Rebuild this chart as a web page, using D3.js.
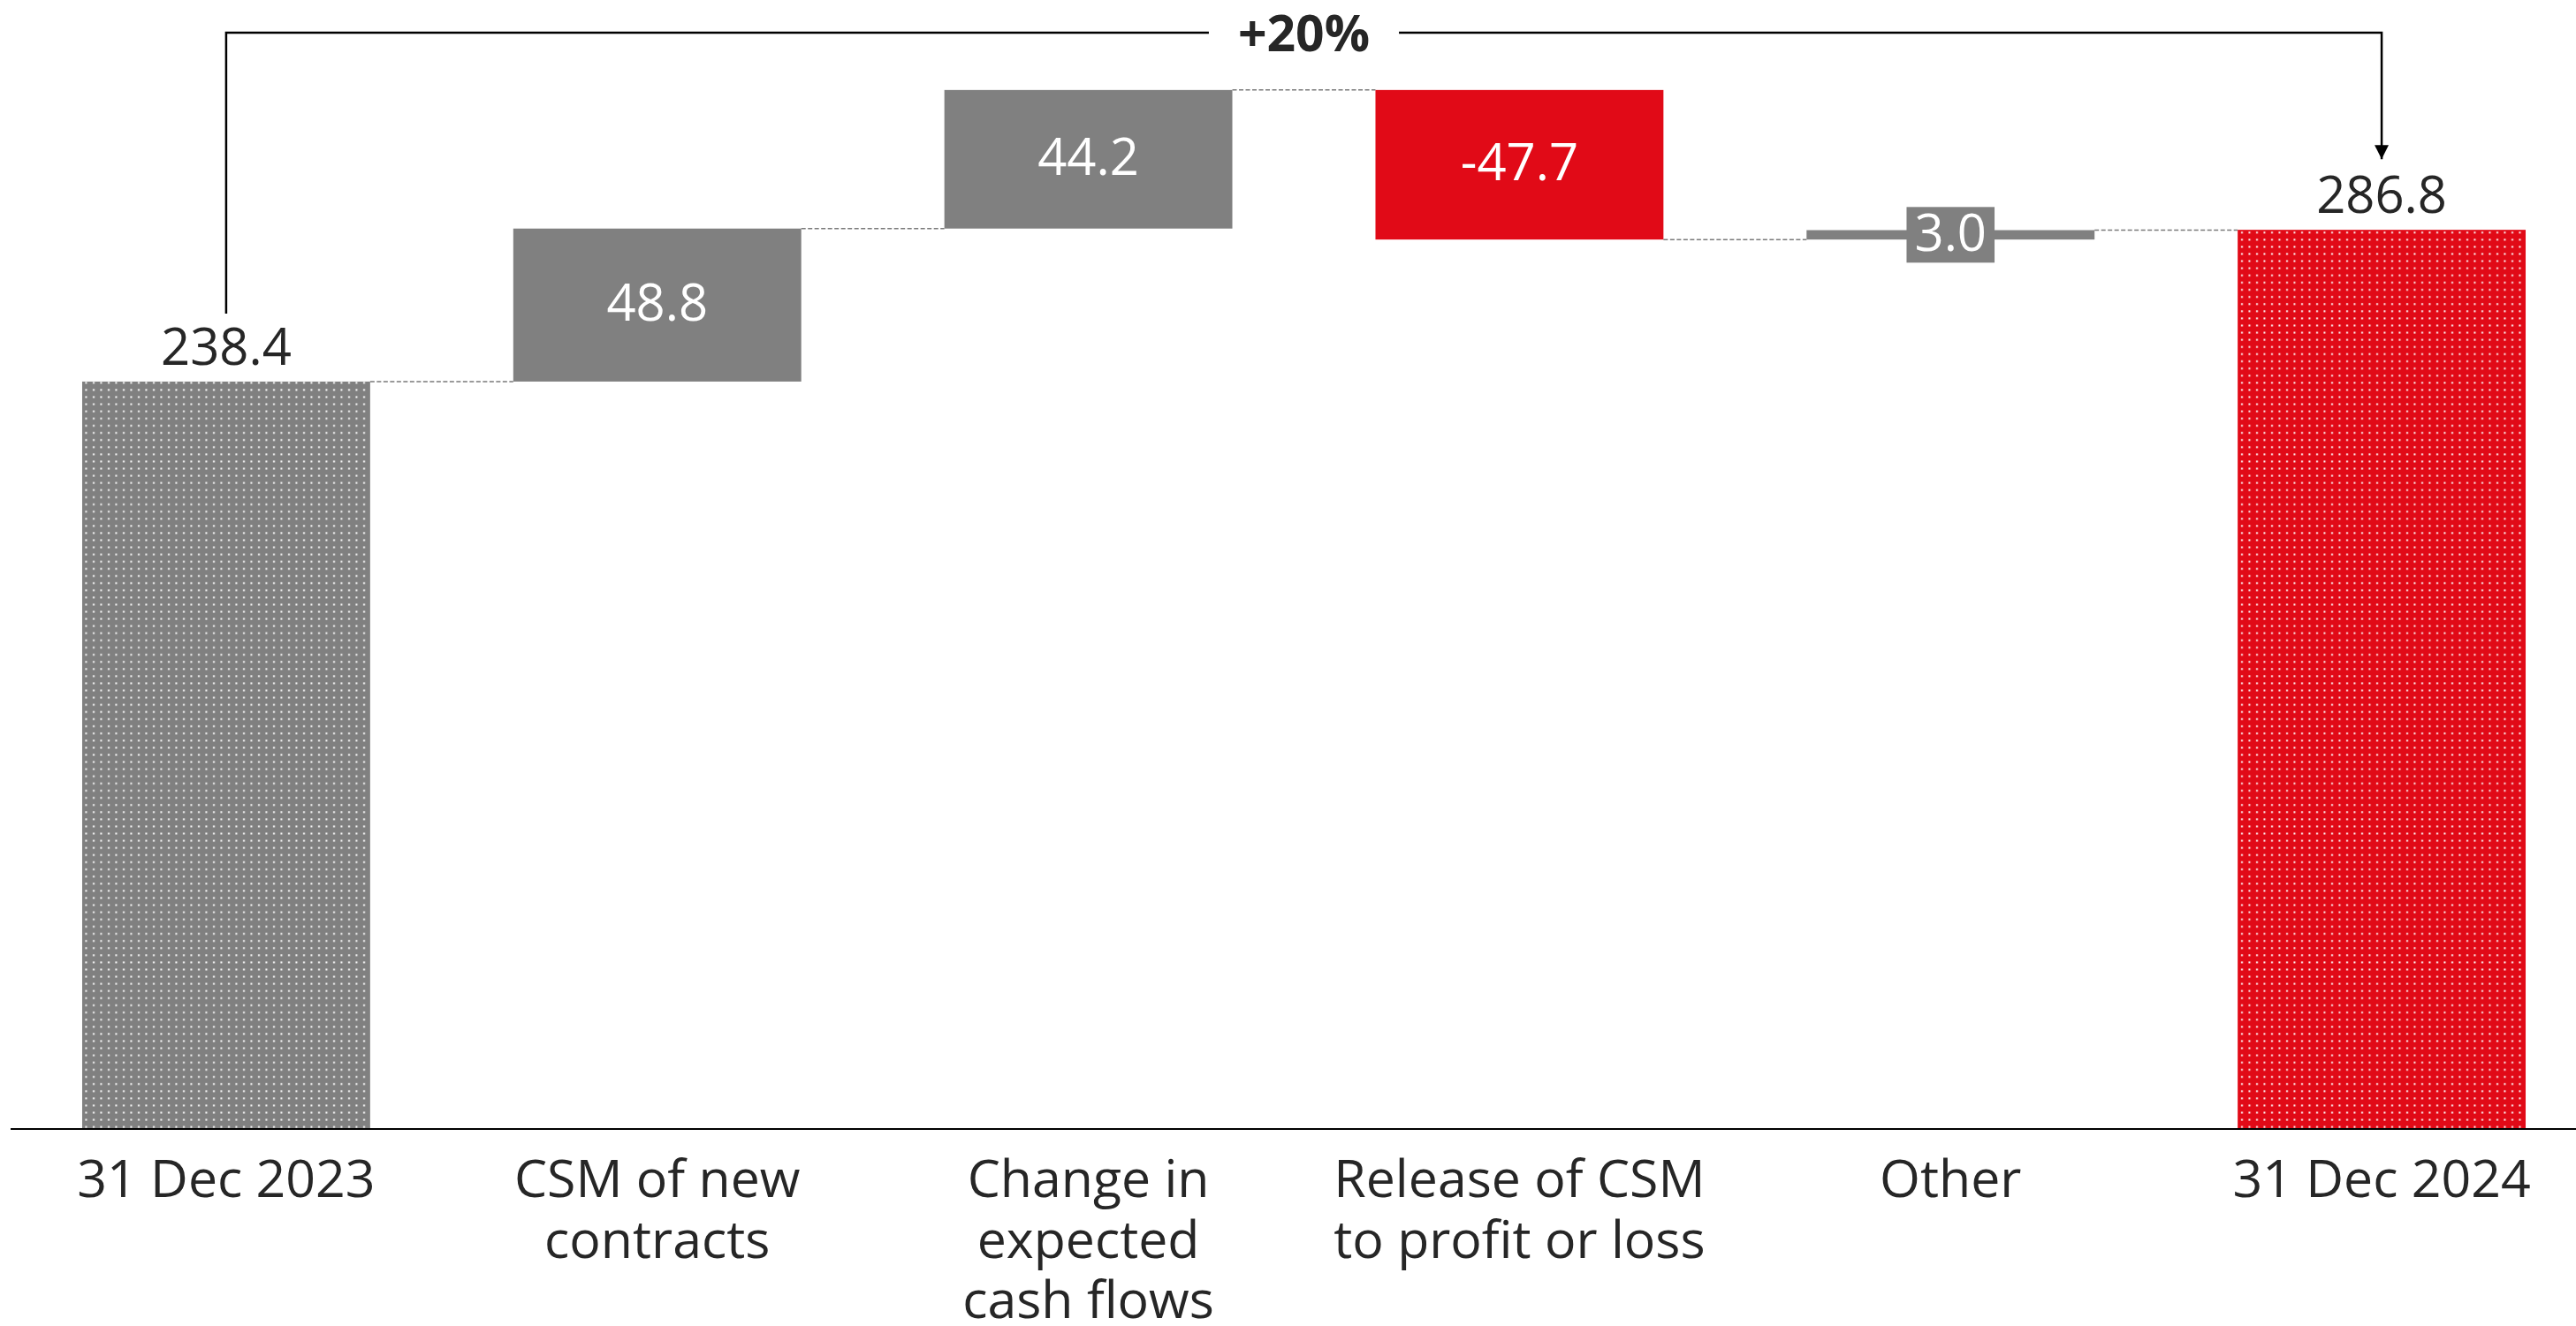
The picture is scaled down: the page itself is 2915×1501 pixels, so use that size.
<!DOCTYPE html>
<meta charset="utf-8">
<script src="https://d3js.org/d3.v7.min.js"></script>
<style>
  body { margin: 0; background: #fff; }
  text { font-family: "Open Sans", "Noto Sans", sans-serif; }
</style>
<div id="chart"></div>
<script>

    // data
    var categories = ["31 Dec 2023", "CSM of new contracts", "Change in expected cash flows",
                      "Release of CSM to profit or loss", "Other", "31 Dec 2024"];
    var labelLines = [["31 Dec 2023"], ["CSM of new", "contracts"], ["Change in", "expected", "cash flows"],
                      ["Release of CSM", "to profit or loss"], ["Other"], ["31 Dec 2024"]];
    var values = [238.4, 48.8, 44.2, -47.7, 3.0, 286.8];
    var kinds = ["total", "delta", "delta", "delta", "delta", "total"];
    var changeLabel = "+20%";

    var width = 2915, height = 1501;
    var baseY = 1278;

    var gray = "#808080", red = "#e10a17", ink = "#262626";

    var svg = d3.select("#chart").append("svg")
        .attr("width", width)
        .attr("height", height);

    var defs = svg.append("defs");

    // dotted fills for the two totals
    function dotPattern(id, color) {
        var p = defs.append("pattern")
            .attr("id", id)
            .attr("patternUnits", "userSpaceOnUse")
            .attr("width", 8.5)
            .attr("height", 8.1);
        p.append("rect").attr("width", 8.5).attr("height", 8.1).attr("fill", color);
        p.append("rect").attr("x", 3).attr("y", 3).attr("width", 2).attr("height", 2).attr("fill", "#fff");
    }
    dotPattern("dotsGray", gray);
    dotPattern("dotsRed", red);

    defs.append("marker")
        .attr("id", "arrow")
        .attr("viewBox", "0 0 10 10")
        .attr("refX", 10).attr("refY", 5)
        .attr("markerUnits", "userSpaceOnUse")
        .attr("markerWidth", 16).attr("markerHeight", 16)
        .attr("orient", "auto")
        .append("path")
        .attr("d", "M0,0 L10,5 L0,10 z")
        .attr("fill", "#000");

    // scales
    var x = d3.scaleBand()
        .domain(categories)
        .range([12, 2939])
        .paddingInner(0.332)
        .paddingOuter(0.166);

    var y = d3.scaleLinear()
        .domain([0, 300])
        .range([baseY, baseY - 300 * 3.549]);

    // running totals
    var run = 0;
    var bars = categories.map(function(c, i) {
        var start, end;
        if (kinds[i] == "total") { start = 0; end = values[i]; run = values[i]; }
        else { start = run; end = run + values[i]; run = end; }
        return {cat: c, i: i, start: start, end: end, value: values[i], kind: kinds[i]};
    });

    function fillFor(d) {
        if (d.kind == "total") return d.i == 0 ? "url(#dotsGray)" : "url(#dotsRed)";
        return d.value < 0 ? red : gray;
    }

    // connectors
    var conn = svg.append("g");
    for (var k = 0; k < bars.length - 1; k++) {
        var lvl = bars[k].end;
        conn.append("line")
            .attr("x1", x(bars[k].cat) + x.bandwidth())
            .attr("x2", x(bars[k + 1].cat))
            .attr("y1", y(lvl)).attr("y2", y(lvl))
            .attr("stroke", "#7a7a7a")
            .attr("stroke-width", 1.5)
            .attr("stroke-dasharray", "5,2.5");
    }

    // bars
    svg.append("g").selectAll("rect")
        .data(bars)
        .enter()
        .append("rect")
            .attr("x", function(d) { return x(d.cat); })
            .attr("y", function(d) { return y(Math.max(d.start, d.end)); })
            .attr("width", x.bandwidth())
            .attr("height", function(d) { return Math.abs(y(d.start) - y(d.end)); })
            .attr("fill", fillFor);

    // value labels
    var vl = svg.append("g");
    bars.forEach(function(d) {
        var cx = x(d.cat) + x.bandwidth() / 2;
        if (d.kind == "total") {
            vl.append("text")
                .attr("x", cx)
                .attr("y", y(d.end) - 19)
                .attr("text-anchor", "middle")
                .attr("font-size", 58)
                .attr("fill", ink)
                .text(d.value.toFixed(1));
        } else {
            var mid = (y(d.start) + y(d.end)) / 2;
            var h = Math.abs(y(d.start) - y(d.end));
            var t = vl.append("text")
                .attr("x", cx)
                .attr("y", mid)
                .attr("dy", "0.31em")
                .attr("text-anchor", "middle")
                .attr("font-size", 58)
                .attr("fill", "#fff")
                .text(d.value.toFixed(1));
            if (h < 63) {
                var bb = t.node().getBBox();
                vl.insert("rect", "text")
                    .attr("x", cx - bb.width / 2 - 9)
                    .attr("y", mid - 31.5)
                    .attr("width", bb.width + 18)
                    .attr("height", 63)
                    .attr("fill", gray);
            }
        }
    });

    // baseline
    svg.append("line")
        .attr("x1", 12).attr("x2", width)
        .attr("y1", baseY).attr("y2", baseY)
        .attr("stroke", "#000")
        .attr("stroke-width", 2.2);

    // category labels
    var cl = svg.append("g");
    bars.forEach(function(d) {
        var t = cl.append("text")
            .attr("x", x(d.cat) + x.bandwidth() / 2)
            .attr("y", 1355)
            .attr("text-anchor", "middle")
            .attr("font-size", 59)
            .attr("fill", ink);
        labelLines[d.i].forEach(function(line, j) {
            t.append("tspan")
                .attr("x", x(d.cat) + x.bandwidth() / 2)
                .attr("dy", j == 0 ? 0 : 68.5)
                .text(line);
        });
    });

    // +20% bracket
    var first = bars[0], last = bars[bars.length - 1];
    var xa = x(first.cat) + x.bandwidth() / 2;
    var xb = x(last.cat) + x.bandwidth() / 2;
    var topY = 37;
    var xm = (xa + xb) / 2;

    var pct = svg.append("text")
        .attr("x", xm)
        .attr("y", topY)
        .attr("dy", "0.36em")
        .attr("text-anchor", "middle")
        .attr("font-size", 57)
        .attr("font-weight", "bold")
        .attr("fill", ink)
        .text(changeLabel);
    var pb = pct.node().getBBox();

    svg.append("path")
        .attr("d", "M" + xa + "," + (y(first.end) - 77) + " V" + topY + " H" + (pb.x - 33))
        .attr("fill", "none")
        .attr("stroke", "#000")
        .attr("stroke-width", 2.5);

    svg.append("path")
        .attr("d", "M" + (pb.x + pb.width + 33) + "," + topY + " H" + xb + " V" + (y(last.end) - 80))
        .attr("fill", "none")
        .attr("stroke", "#000")
        .attr("stroke-width", 2.5)
        .attr("marker-end", "url(#arrow)");

</script>
